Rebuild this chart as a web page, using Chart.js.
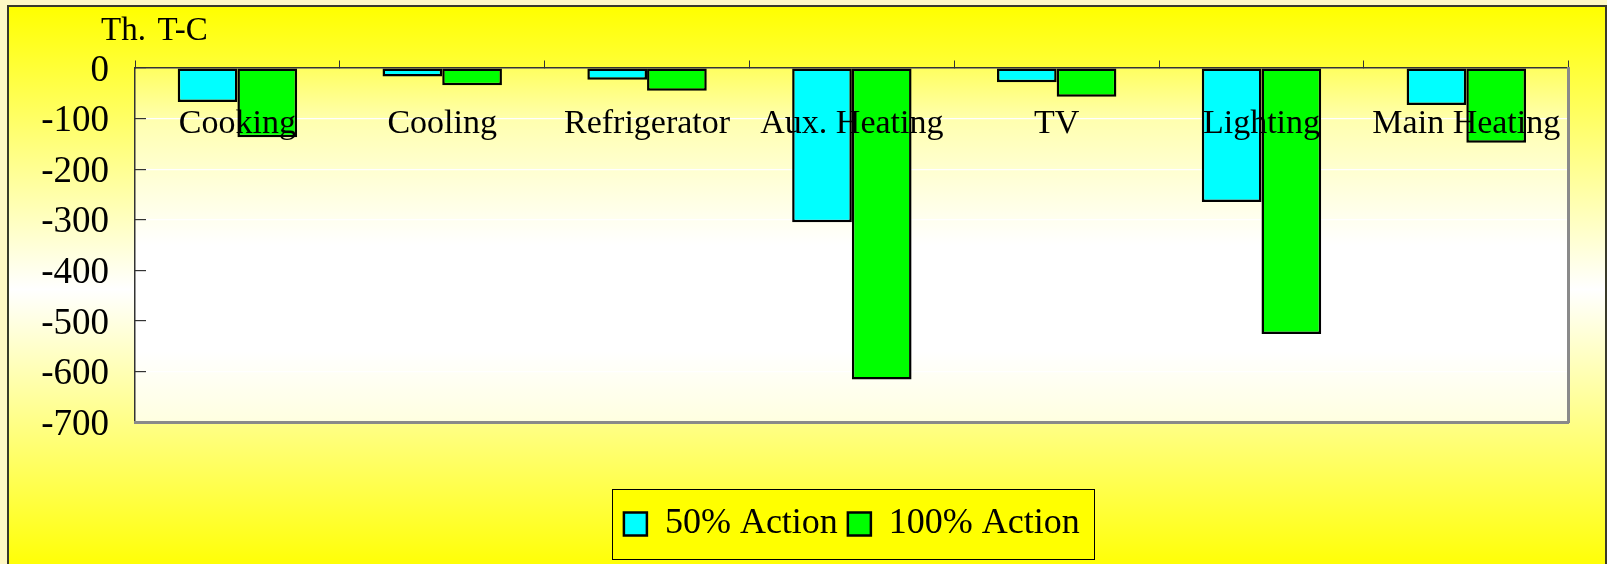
<!DOCTYPE html>
<html>
<head>
    <title>Th. T-C by end use</title>
    <style>
        html, body { margin: 0; padding: 0; overflow: hidden; background: #fff8c4; }
        #frame {
            position: absolute; left: 7px; top: 5px; width: 1596px; height: 565px;
            border: 2px solid #3a3a2a; border-bottom: none;
            background: linear-gradient(to bottom, #ffff00 0%, #ffffff 50%, #ffff00 100%);
        }
        #unit {
            position: absolute; left: 101px; top: 13px;
            font-family: 'Liberation Serif'; font-size: 33px; line-height: 33px; color: #000;
            word-spacing: 4px;
        }
        canvas { position: absolute; left: 0; top: 0; }
    </style>
</head>
<body>
    <div id="frame"></div>
    <canvas id="chart" width="1607" height="564"></canvas>
    <div id="unit">Th. T-C</div>

    <script src="https://cdn.jsdelivr.net/npm/chart.js"></script>
    <script>
        const categories = ['Cooking', 'Cooling', 'Refrigerator', 'Aux. Heating', 'TV', 'Lighting', 'Main Heating'];
        const halfAction = [-67, -17, -23, -305, -28, -265, -73];
        const fullAction = [-137, -34, -45, -616, -57, -526, -148];
        const yTicks = [0, -100, -200, -300, -400, -500, -600, -700];

        const serif = 'Liberation Serif';

        // plot area wash + yellow framed box behind the legend items
        const backdrop = {
            id: 'backdrop',
            beforeDraw(chart) {
                const ctx = chart.ctx;
                const a = chart.chartArea;
                ctx.save();
                const g = ctx.createLinearGradient(0, a.top, 0, a.bottom);
                g.addColorStop(0, '#ffff60');
                g.addColorStop(0.15, '#ffffb0');
                g.addColorStop(0.32, '#ffffd8');
                g.addColorStop(0.5, '#ffffff');
                g.addColorStop(0.8, '#ffffff');
                g.addColorStop(1, '#ffffe0');
                ctx.fillStyle = g;
                ctx.fillRect(a.left, a.top, a.right - a.left, a.bottom - a.top);

                const boxes = chart.legend && chart.legend.legendHitBoxes;
                if (boxes && boxes.length) {
                    const left = Math.min(...boxes.map(b => b.left)) - 12;
                    const right = Math.max(...boxes.map(b => b.left + b.width)) + 14;
                    const top = Math.min(...boxes.map(b => b.top)) - 17;
                    const bottom = Math.max(...boxes.map(b => b.top + b.height)) + 17;
                    ctx.fillStyle = '#ffff00';
                    ctx.fillRect(left, top, right - left, bottom - top);
                    ctx.strokeStyle = '#000';
                    ctx.lineWidth = 1;
                    ctx.strokeRect(Math.round(left) + 0.5, Math.round(top) + 0.5, Math.round(right - left), Math.round(bottom - top));
                }
                ctx.restore();
            }
        };

        new Chart(document.getElementById('chart'), {
            type: 'bar',
            data: {
                labels: categories,
                datasets: [
                    {
                        label: '50% Action',
                        data: halfAction,
                        backgroundColor: '#00ffff',
                        borderColor: '#000',
                        borderWidth: 2.5,
                        borderSkipped: false,
                        xAxisID: 'x',
                        yAxisID: 'y'
                    },
                    {
                        label: '100% Action',
                        data: fullAction,
                        backgroundColor: '#00ff00',
                        borderColor: '#000',
                        borderWidth: 2.5,
                        borderSkipped: false,
                        xAxisID: 'x',
                        yAxisID: 'y'
                    }
                ]
            },
            options: {
                responsive: false,
                animation: false,
                devicePixelRatio: 1,
                categoryPercentage: 0.583,
                barPercentage: 1,
                layout: { padding: { left: 30, top: 68, right: 0, bottom: 12 } },
                plugins: {
                    legend: {
                        position: 'bottom',
                        fullSize: false,
                        labels: {
                            color: '#000',
                            font: { family: serif, size: 36 },
                            boxWidth: 23,
                            boxHeight: 23,
                            padding: 10
                        }
                    },
                    tooltip: { enabled: false }
                },
                scales: {
                    x: {
                        type: 'category',
                        position: { y: 0 },
                        offset: true,
                        grid: { display: true, drawOnChartArea: false, offset: true, tickLength: -8, tickColor: '#333' },
                        border: { display: true, color: '#333', width: 1.5 },
                        ticks: { z: 1, color: '#000', font: { family: serif, size: 34 }, padding: 44, maxRotation: 0, autoSkip: false }
                    },
                    y: {
                        position: 'left',
                        min: Math.min(...yTicks),
                        max: Math.max(...yTicks),
                        ticks: { stepSize: 100, color: '#000', font: { family: serif, size: 37 }, padding: 37, labelOffset: 3 },
                        grid: { color: '#ffffff', lineWidth: 1.2, tickLength: -11, tickColor: '#333' },
                        border: { display: true, color: '#333', width: 1.5 },
                        afterFit: s => { s.width = 105; }
                    },
                    xb: {
                        type: 'category',
                        position: 'bottom',
                        grid: { display: false },
                        ticks: { display: false },
                        border: { display: true, color: '#8a8a8a', width: 3 },
                        afterFit: s => { s.height = 74; }
                    },
                    yr: {
                        type: 'linear',
                        position: 'right',
                        min: Math.min(...yTicks),
                        max: Math.max(...yTicks),
                        grid: { display: false },
                        ticks: { display: false },
                        border: { display: true, color: '#8a8a8a', width: 3 },
                        afterFit: s => { s.width = 18; }
                    }
                }
            },
            plugins: [backdrop]
        });
    </script>
</body>
</html>
